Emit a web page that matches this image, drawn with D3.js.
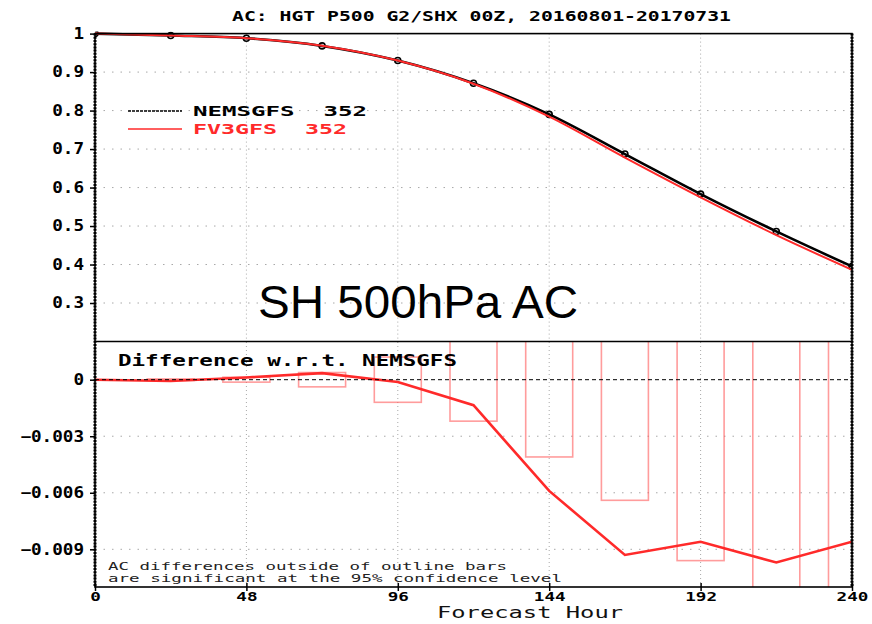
<!DOCTYPE html>
<html>
<head>
<meta charset="utf-8">
<script src="https://cdn.jsdelivr.net/npm/d3@7"></script>
<style>
  html, body { margin: 0; padding: 0; background: #fff; }
  svg { display: block; }
</style>
</head>
<body>
<svg id="chart" width="872" height="624"></svg>
<script>
// Forecast hours at which the scores are verified
const hours = [0, 24, 48, 72, 96, 120, 144, 168, 192, 216, 240];
// 500 hPa height anomaly correlation, Southern Hemisphere
const nemsgfs = [1.0, 0.995, 0.988, 0.968, 0.930, 0.871, 0.790, 0.687, 0.583, 0.486, 0.395];
const fv3gfs  = [1.0, 0.9949, 0.9881, 0.9684, 0.9299, 0.8697, 0.7841, 0.6777, 0.5744, 0.4763, 0.3864];
// FV3GFS minus NEMSGFS
const diffs   = [0, -0.00007, 0.00012, 0.00035, -0.00012, -0.00135, -0.0059, -0.0093, -0.0086, -0.0097, -0.0086];
// half-width of the 95% confidence interval of the difference
const ci95    = [0, 0.00004, 0.00013, 0.00038, 0.0012, 0.0022, 0.0041, 0.0064, 0.0096, 0.0125, 0.015];

const xTicks = [0, 48, 96, 144, 192, 240];
const topTicks = [0.3, 0.4, 0.5, 0.6, 0.7, 0.8, 0.9, 1];
const botTicks = [0, -0.003, -0.006, -0.009];
const legendNames = ["NEMSGFS  352", "FV3GFS  352"];

const svg = d3.select("#chart");
const mono = "'DejaVu Sans Mono', 'Liberation Mono', monospace";

const left = 95, right = 852;
const topY0 = 33.6, topY1 = 341.5, botY0 = 342, botY1 = 587;

const x = d3.scaleLinear().domain([0, 240]).range([left, right]);
const yTop = d3.scaleLinear().domain([0.2, 1]).range([topY1, topY0]);
const yBot = d3.scaleLinear().domain([-0.011, 0.002]).range([botY1, botY0]);

const defs = svg.append("defs");
defs.append("clipPath").attr("id", "clipTop")
  .append("rect").attr("x", left).attr("y", topY0 - 2).attr("width", right - left).attr("height", topY1 - topY0 + 2);
defs.append("clipPath").attr("id", "clipBot")
  .append("rect").attr("x", left).attr("y", botY0).attr("width", right - left).attr("height", botY1 - botY0);

// ---- grid lines ----
const grid = svg.append("g").attr("stroke", "#a8a8a8").attr("stroke-width", 1);
topTicks.filter(v => v < 1).forEach(v => {
  grid.append("line").attr("x1", left).attr("x2", right).attr("y1", yTop(v)).attr("y2", yTop(v))
    .attr("stroke-dasharray", "1.5,7");
});
botTicks.filter(v => v !== 0).forEach(v => {
  grid.append("line").attr("x1", left).attr("x2", right).attr("y1", yBot(v)).attr("y2", yBot(v))
    .attr("stroke-dasharray", "1.5,7");
});
xTicks.filter(h => h > 0 && h < 240).forEach(h => {
  grid.append("line").attr("x1", x(h)).attr("x2", x(h)).attr("y1", topY0).attr("y2", topY1)
    .attr("stroke-dasharray", "1,3");
  grid.append("line").attr("x1", x(h)).attr("x2", x(h)).attr("y1", botY0).attr("y2", botY1)
    .attr("stroke-dasharray", "1,3");
});

// ---- top panel: anomaly correlation curves ----
const topG = svg.append("g").attr("clip-path", "url(#clipTop)");
const lineTop = d3.line().x((d, i) => x(hours[i])).y(d => yTop(d)).curve(d3.curveMonotoneX);
topG.append("path").datum(nemsgfs).attr("d", lineTop)
  .attr("fill", "none").attr("stroke", "#000").attr("stroke-width", 2.6);
topG.selectAll("circle.m").data(nemsgfs).enter().append("circle")
  .attr("cx", (d, i) => x(hours[i])).attr("cy", d => yTop(d)).attr("r", 3)
  .attr("fill", "none").attr("stroke", "#000").attr("stroke-width", 1.6);
topG.append("path").datum(fv3gfs).attr("d", lineTop)
  .attr("fill", "none").attr("stroke", "#ff2a2a").attr("stroke-width", 2);

// legend
const legend = svg.append("g");
const legColors = ["#000", "#ff2a2a"];
const legY = [111, 129];
const legLen = [174, 154];
legendNames.forEach((name, i) => {
  legend.append("line").attr("x1", 128).attr("x2", 182).attr("y1", legY[i]).attr("y2", legY[i])
    .attr("stroke", legColors[i]).attr("stroke-width", i === 0 ? 1.6 : 1.4)
    .attr("stroke-dasharray", i === 0 ? "3,1" : null);
  legend.append("text").attr("x", 193).attr("y", legY[i] + 5)
    .attr("font-family", mono).attr("font-weight", "bold").attr("font-size", 14)
    .attr("fill", legColors[i]).attr("xml:space", "preserve")
    .attr("textLength", legLen[i]).attr("lengthAdjust", "spacingAndGlyphs")
    .text(name);
});

svg.append("text").attr("x", 258).attr("y", 318)
  .attr("font-family", "'Liberation Sans', Arial, sans-serif").attr("font-size", 46)
  .attr("fill", "#000").attr("textLength", 320).attr("lengthAdjust", "spacingAndGlyphs")
  .text("SH 500hPa AC");

// ---- bottom panel: differences and significance bars ----
const botG = svg.append("g").attr("clip-path", "url(#clipBot)");
svg.append("line").attr("x1", left).attr("x2", right).attr("y1", yBot(0)).attr("y2", yBot(0))
  .attr("stroke", "#000").attr("stroke-width", 1).attr("stroke-dasharray", "4,3");

const halfW = 7.45;
botG.selectAll("rect.ci").data(ci95.map((c, i) => ({ h: hours[i], c })).filter(d => d.c > 0))
  .enter().append("rect")
  .attr("x", d => x(d.h - halfW)).attr("width", d => x(d.h + halfW) - x(d.h - halfW))
  .attr("y", d => yBot(d.c)).attr("height", d => yBot(-d.c) - yBot(d.c))
  .attr("fill", "none").attr("stroke", "#ff5a5a").attr("stroke-opacity", 0.6).attr("stroke-width", 1.6);

const lineBot = d3.line().x((d, i) => x(hours[i])).y(d => yBot(d));
botG.append("path").datum(diffs).attr("d", lineBot)
  .attr("fill", "none").attr("stroke", "#ff2a2a").attr("stroke-width", 2.6);

svg.append("text").attr("x", 118).attr("y", 366)
  .attr("font-family", mono).attr("font-weight", "bold").attr("font-size", 15)
  .attr("textLength", 339).attr("lengthAdjust", "spacingAndGlyphs")
  .text("Difference w.r.t. NEMSGFS");

const note = svg.append("g").attr("font-family", mono).attr("font-size", 11).attr("fill", "#222");
note.append("text").attr("x", 108).attr("y", 570)
  .attr("textLength", 399).attr("lengthAdjust", "spacingAndGlyphs")
  .text("AC differences outside of outline bars");
note.append("text").attr("x", 108).attr("y", 582)
  .attr("textLength", 454).attr("lengthAdjust", "spacingAndGlyphs")
  .text("are significant at the 95% confidence level");

// ---- frame ----
svg.append("rect").attr("x", left).attr("y", topY0).attr("width", right - left).attr("height", botY1 - topY0)
  .attr("fill", "none").attr("stroke", "#000").attr("stroke-width", 1.6);
svg.append("line").attr("x1", left).attr("x2", right).attr("y1", topY1).attr("y2", topY1)
  .attr("stroke", "#000").attr("stroke-width", 1.6);
// minor-tick look of the side borders
[left, right].forEach(px => {
  svg.append("line").attr("x1", px).attr("x2", px).attr("y1", topY0).attr("y2", botY1)
    .attr("stroke", "#000").attr("stroke-width", 3).attr("stroke-dasharray", "2,1.2");
});

// ---- axes ----
const axTop = svg.append("g").attr("transform", `translate(${left},0)`)
  .call(d3.axisLeft(yTop).tickValues(topTicks).tickSize(5).tickPadding(6).tickFormat(d3.format("~g")));
const axBot = svg.append("g").attr("transform", `translate(${left},0)`)
  .call(d3.axisLeft(yBot).tickValues(botTicks).tickSize(5).tickPadding(6)
    .tickFormat(d => d === 0 ? "0" : d3.format(".3f")(d).replace("-", "\u2212")));
const axX = svg.append("g").attr("transform", `translate(0,${botY1})`)
  .call(d3.axisBottom(x).tickValues(xTicks).tickSize(4).tickPadding(1).tickFormat(d3.format("d")));

[axTop, axBot, axX].forEach(ax => {
  ax.select(".domain").remove();
  ax.selectAll(".tick line").attr("stroke", "#000").attr("stroke-width", 1.5);
  ax.selectAll(".tick text").attr("font-family", mono).attr("font-weight", "bold")
    .attr("font-size", 15).attr("fill", "#000")
    .attr("textLength", function () { return this.textContent.length * 10.6; })
    .attr("lengthAdjust", "spacingAndGlyphs");
});
axX.selectAll(".tick line").attr("y1", -4);
axX.selectAll(".tick text").attr("font-size", 13);

// ---- titles ----
svg.append("text").attr("x", 232).attr("y", 21)
  .attr("font-family", mono).attr("font-weight", "bold").attr("font-size", 14)
  .attr("textLength", 499).attr("lengthAdjust", "spacingAndGlyphs")
  .text("AC: HGT P500 G2/SHX 00Z, 20160801-20170731");

svg.append("text").attr("x", 437).attr("y", 618)
  .attr("font-family", mono).attr("font-size", 15).attr("fill", "#111")
  .attr("textLength", 186).attr("lengthAdjust", "spacingAndGlyphs")
  .text("Forecast Hour");
</script>
</body>
</html>
